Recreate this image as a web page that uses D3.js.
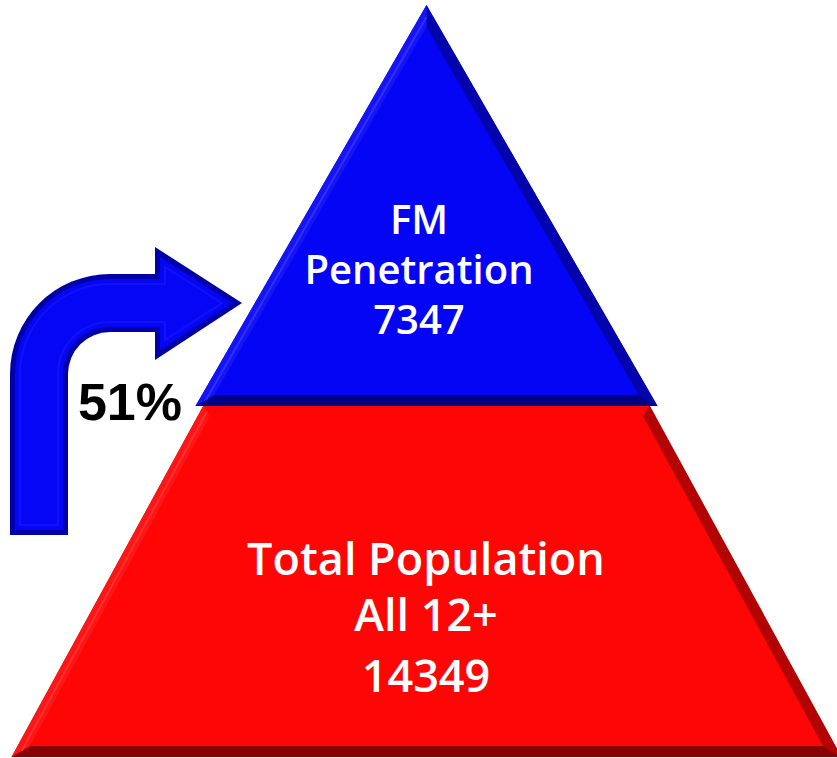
<!DOCTYPE html>
<html>
<head>
<meta charset="utf-8">
<script src="https://cdn.jsdelivr.net/npm/d3@7"></script>
<style>
  html, body { margin: 0; padding: 0; background: #fff; }
  svg { display: block; }
</style>
</head>
<body>
<div id="chart"></div>
<script>
// tiers, top to bottom
const tierNames = ['FM Penetration', 'Total Population All 12+']
const tierValues = [7347, 14349]
const tierLines = [['FM', 'Penetration', '7347'], ['Total Population', 'All 12+', '14349']]
const tierColors = ['#0505f5', '#fe0606']
const shareLabel = ['51%']

const width = 837
const height = 758

const svg = d3.select('#chart')
  .append('svg')
  .attr('width', width)
  .attr('height', height)

// piecewise vertical scale: tier boundaries
const yScale = d3.scaleLinear()
  .domain([0, 1, 2])
  .range([5, 406, 757])

const cx = 426.5
// half width of the pyramid at a given y (red body), blue tip pops out a bit
const halfRed = d3.scaleLinear().domain([-2, 757]).range([0, 415])
const halfBlue = d3.scaleLinear().domain([5, 406]).range([0, 231])

const shapes = [
  [[cx, yScale(0)], [cx + halfBlue(yScale(1)), yScale(1)], [cx - halfBlue(yScale(1)), yScale(1)]],
  [[cx - halfRed(yScale(1)), yScale(1) - 0.5], [cx + halfRed(yScale(1)), yScale(1) - 0.5],
   [cx + halfRed(yScale(2)), yScale(2)], [cx - halfRed(yScale(2)), yScale(2)]]
]

// inset a convex polygon (clockwise on screen) by d
const inset = (pts, d) => {
  const n = pts.length
  const lines = pts.map((p, i) => {
    const q = pts[(i + 1) % n]
    const dx = q[0] - p[0], dy = q[1] - p[1]
    const len = Math.hypot(dx, dy)
    const nx = -dy / len, ny = dx / len // inward normal for clockwise
    return { p: [p[0] + nx * d, p[1] + ny * d], dir: [dx, dy] }
  })
  return pts.map((p, i) => {
    const a = lines[(i - 1 + n) % n], b = lines[i]
    const den = a.dir[0] * b.dir[1] - a.dir[1] * b.dir[0]
    const t = ((b.p[0] - a.p[0]) * b.dir[1] - (b.p[1] - a.p[1]) * b.dir[0]) / den
    return [a.p[0] + a.dir[0] * t, a.p[1] + a.dir[1] * t]
  })
}

const edgeShade = (base, p, q) => {
  const dx = q[0] - p[0], dy = q[1] - p[1]
  const len = Math.hypot(dx, dy)
  const ox = dy / len, oy = -dx / len
  if (oy > 0.9) return d3.interpolateRgb(base, '#000')(0.47)
  if (oy < -0.9) return base
  if (ox > 0) return d3.interpolateRgb(base, '#000')(0.3)
  return d3.interpolateRgb(base, '#fff')(0.06)
}

const line = d3.line()

// draw red body first so the blue tip sits on top of the seam
const order = [1, 0]
order.forEach(k => {
  const pts = shapes[k]
  const base = tierColors[k]
  const g = svg.append('g').attr('class', 'tier')
  const inner = inset(pts, 11)
  g.append('path').attr('d', line(pts) + 'Z').attr('fill', base)
  pts.forEach((p, i) => {
    const q = pts[(i + 1) % pts.length]
    const quad = [p, q, inner[(i + 1) % pts.length], inner[i]]
    g.append('path')
      .attr('d', line(quad) + 'Z')
      .attr('fill', edgeShade(base, p, q))
  })
  g.append('path').attr('d', line(inner) + 'Z').attr('fill', base)
  // soft highlight along the left slope
  const hl = inset(pts, 6)
  const li = pts.length - 1
  g.append('path')
    .attr('d', line([hl[li], hl[0]]))
    .attr('stroke', d3.interpolateRgb(base, '#fff')(0.25))
    .attr('stroke-width', 2)
    .attr('opacity', 0.6)
})

// bent arrow
const arrowPath = d => {
  const p = d3.path()
  p.moveTo(10 + d, 535 - d)
  p.lineTo(10 + d, 374)
  p.arc(110, 374, 100 - d, Math.PI, 1.5 * Math.PI)
  p.lineTo(155 + d, 274 + d)
  p.lineTo(155 + d, 247 + d * 2)
  p.lineTo(242 - d * 2, 303)
  p.lineTo(155 + d, 360 - d * 2)
  p.lineTo(155 + d, 332 - d)
  p.lineTo(110, 332 - d)
  p.arc(110, 374, 42 + d, 1.5 * Math.PI, Math.PI, true)
  p.lineTo(68 - d, 535 - d)
  p.closePath()
  return p.toString()
}

const arrow = svg.append('g').attr('class', 'arrow')
arrow.append('path').attr('d', arrowPath(0)).attr('fill', '#0000a8')
arrow.append('path').attr('d', arrowPath(5)).attr('fill', '#0606f6')
arrow.append('path').attr('d', arrowPath(10)).attr('fill', 'none')
  .attr('stroke', '#3030ff').attr('stroke-width', 2).attr('opacity', 0.3)

svg.append('text')
  .text(shareLabel[0])
  .attr('x', 130)
  .attr('y', 420)
  .attr('text-anchor', 'middle')
  .attr('font-family', 'Liberation Sans, Arial, sans-serif')
  .attr('font-weight', 'bold')
  .attr('font-size', 52)
  .attr('fill', '#000')

// tier labels
const labelPos = [
  { x: 419, ys: [234, 284, 334], size: 40 },
  { x: 426, ys: [575, 631, 692], size: 45 }
]

tierLines.forEach((lines, k) => {
  svg.append('g')
    .attr('class', 'label')
    .attr('aria-label', `${tierNames[k]} ${tierValues[k]}`)
    .selectAll('text')
    .data(lines)
    .enter()
    .append('text')
    .text(d => d)
    .attr('x', labelPos[k].x)
    .attr('y', (d, i) => labelPos[k].ys[i])
    .attr('text-anchor', 'middle')
    .attr('font-family', 'Open Sans, sans-serif')
    .attr('font-weight', 600)
    .attr('font-size', labelPos[k].size)
    .attr('fill', '#fff')
})
</script>
</body>
</html>
